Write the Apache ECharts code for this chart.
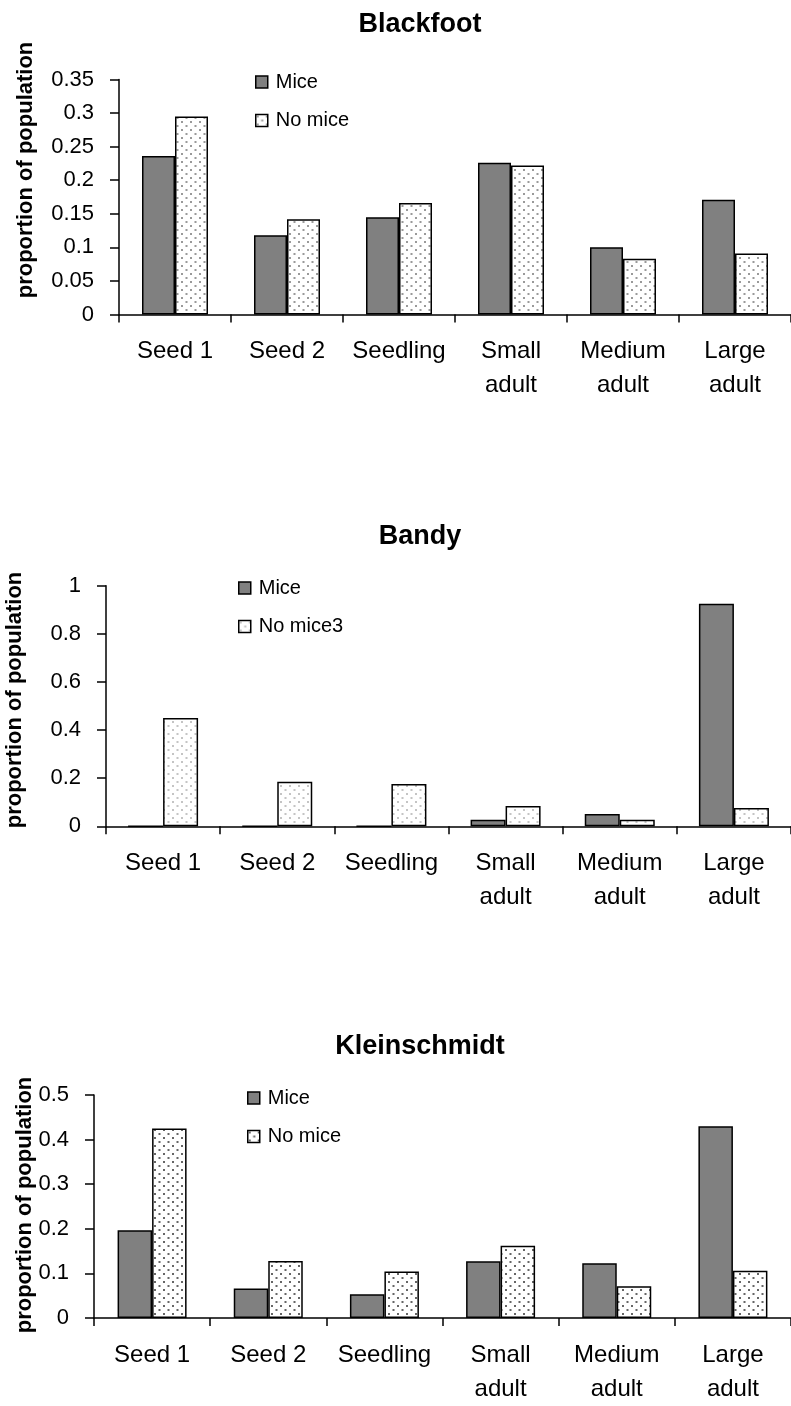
<!DOCTYPE html>
<html><head><meta charset="utf-8">
<script src="https://cdn.jsdelivr.net/npm/echarts@6/dist/echarts.min.js"></script>
<style>html,body{margin:0;padding:0;background:#fff}#c{width:791px;height:1406px}</style>
</head><body><div id="c"></div>
<script>
// ---- data ----
const categories = ['Seed 1', 'Seed 2', 'Seedling', 'Small\nadult', 'Medium\nadult', 'Large\nadult'];
const chartTitles = ['Blackfoot', 'Bandy', 'Kleinschmidt'];
const seriesNames = [['Mice', 'No mice'], ['Mice', 'No mice3'], ['Mice', 'No mice']];
const blackfootMice   = [0.236, 0.118, 0.145, 0.226, 0.100, 0.171];
const blackfootNoMice = [0.295, 0.142, 0.166, 0.222, 0.083, 0.091];
const bandyMice       = [0, 0, 0, 0.027, 0.051, 0.925];
const bandyNoMice     = [0.450, 0.185, 0.176, 0.084, 0.027, 0.076];
const kleinMice       = [0.197, 0.066, 0.053, 0.127, 0.123, 0.430];
const kleinNoMice     = [0.425, 0.128, 0.104, 0.162, 0.071, 0.106];
const yMax  = [0.35, 1, 0.5];
const yStep = [0.05, 0.2, 0.1];
const yAxisTitle = 'proportion of population';

// ---- layout / style ----
const FONT = '"Liberation Sans", Arial, sans-serif';
const grids = [
  {left: 119, top: 79.5, width: 678, height: 235},
  {left: 106, top: 585.7, width: 690, height: 240.6},
  {left: 94,  top: 1095, width: 705, height: 227.3}
];
const barWidths = [33, 35, 34.5];
const titleY = [20, 532, 1042];
const legendPos = [{left: 255, top: 72}, {left: 238, top: 578}, {left: 247, top: 1088}];
const nameCenters = [[26, 170], [15, 700], [25, 1205]];
const dotColors = ['#9a9a9a', '#c4c4c4', '#666666'];

function makePattern(dot) {
  const c = document.createElement('canvas');
  c.width = 9; c.height = 8;
  const g = c.getContext('2d');
  g.fillStyle = '#ffffff'; g.fillRect(0, 0, 9, 8);
  g.fillStyle = dot;
  g.fillRect(1, 1, 2, 2);
  g.fillRect(5.5, 5, 2, 2);
  return c;
}
const patterns = dotColors.map(makePattern);
const data = [[blackfootMice, blackfootNoMice], [bandyMice, bandyNoMice], [kleinMice, kleinNoMice]];

const option = {
  backgroundColor: '#ffffff',
  animation: false,
  textStyle: {fontFamily: FONT},
  title: chartTitles.map((t, i) => ({
    text: t, left: 415, top: titleY[i], textAlign: 'center', textVerticalAlign: 'middle',
    textStyle: {fontFamily: FONT, fontWeight: 'bold', fontSize: 27, color: '#000'}
  })),
  grid: grids.map(g => Object.assign({containLabel: false}, g)),
  legend: [0, 1, 2].map(i => ({
    left: legendPos[i].left, top: legendPos[i].top, orient: 'vertical', padding: 0,
    itemWidth: 12, itemHeight: 12, itemGap: 18.5,
    icon: 'rect',
    textStyle: {fontFamily: FONT, fontSize: 20, color: '#000', padding: [0, 0, 0, 3]},
    selectedMode: false,
    data: [
      {name: seriesNames[i][0], itemStyle: {color: '#808080', borderColor: '#000', borderWidth: 1.5}},
      {name: seriesNames[i][1], itemStyle: {color: {image: patterns[i], repetition: 'repeat'}, borderColor: '#000', borderWidth: 1.5}}
    ]
  })),
  xAxis: [0, 1, 2].map(i => ({
    type: 'category', gridIndex: i, data: categories, boundaryGap: true,
    axisLine: {show: true, lineStyle: {color: '#000', width: 1.5}},
    axisTick: {show: true, alignWithLabel: false, inside: false, length: 8, lineStyle: {color: '#000', width: 1.5}},
    axisLabel: {interval: 0, margin: 20, fontFamily: FONT, fontSize: 24, lineHeight: 34, color: '#000'},
    splitLine: {show: false}
  })),
  yAxis: [0, 1, 2].map(i => ({
    type: 'value', gridIndex: i, min: 0, max: yMax[i], interval: yStep[i],
    axisLine: {show: true, lineStyle: {color: '#000', width: 1.5}},
    axisTick: {show: true, inside: false, length: 9, lineStyle: {color: '#000', width: 1.5}},
    axisLabel: {margin: 25, fontFamily: FONT, fontSize: 22, color: '#000'},
    splitLine: {show: false}
  })),
  graphic: nameCenters.map(p => ({
    type: 'text', x: p[0], y: p[1], rotation: Math.PI / 2,
    style: {text: yAxisTitle, font: 'bold 22px ' + FONT, fill: '#000', textAlign: 'center', textVerticalAlign: 'middle'}
  })),
  series: []
};
for (let i = 0; i < 3; i++) {
  option.series.push({
    name: seriesNames[i][0], type: 'bar', xAxisIndex: i, yAxisIndex: i, data: data[i][0],
    barWidth: barWidths[i], barGap: '0%',
    itemStyle: {color: '#808080', borderColor: '#000', borderWidth: 1.5}
  });
  option.series.push({
    name: seriesNames[i][1], type: 'bar', xAxisIndex: i, yAxisIndex: i, data: data[i][1],
    barWidth: barWidths[i], barGap: '0%',
    itemStyle: {color: {image: patterns[i], repetition: 'repeat'}, borderColor: '#000', borderWidth: 1.5}
  });
}
const chart = echarts.init(document.getElementById('c'), null, {renderer: 'canvas'});
chart.setOption(option);
</script>
</body></html>
